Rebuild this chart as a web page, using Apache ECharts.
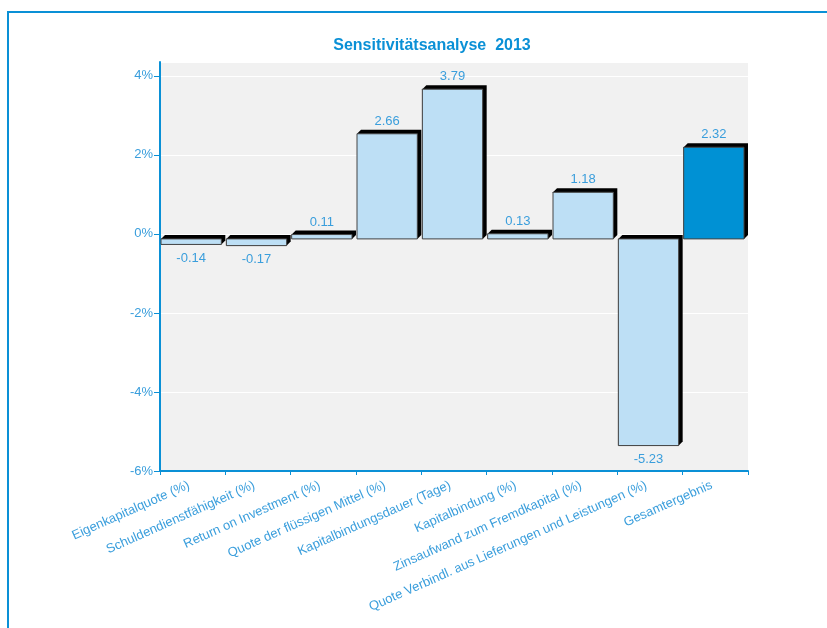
<!DOCTYPE html>
<html>
<head>
<meta charset="utf-8">
<script src="https://cdn.jsdelivr.net/npm/echarts@6/dist/echarts.min.js"></script>
<style>
  html, body { margin: 0; padding: 0; background: #fff; overflow: hidden; }
  #frame { position: absolute; left: 7px; top: 11px; width: 900px; height: 700px;
           border-top: 2px solid #0a90d6; border-left: 2px solid #0a90d6; }
  #chart { position: absolute; left: 0; top: 0; width: 827px; height: 628px; }
</style>
</head>
<body>
<div id="frame"></div>
<div id="chart"></div>
<script>
const categories = [
  "Eigenkapitalquote (%)",
  "Schuldendienstfähigkeit (%)",
  "Return on Investment (%)",
  "Quote der flüssigen Mittel (%)",
  "Kapitalbindungsdauer (Tage)",
  "Kapitalbindung (%)",
  "Zinsaufwand zum Fremdkapital (%)",
  "Quote Verbindl. aus Lieferungen und Leistungen (%)",
  "Gesamtergebnis"
];
const values = [-0.14, -0.17, 0.11, 2.66, 3.79, 0.13, 1.18, -5.23, 2.32];
const yTicks = [-6, -4, -2, 0, 2, 4];

const BLUE = "#0a90d6";
const TEXT = "#3a9edc";
const BAR = "#bddff5";
const TOTAL = "#0091d4";
const FONT = "'Liberation Sans', Arial, sans-serif";

const chart = echarts.init(document.getElementById("chart"));

// 3D-ish bar: black back face offset up-right, light front face on top
function renderBar(params, api) {
  const i = api.value(0);
  const v = api.value(1);
  const base = api.coord([i, 0]);
  const top = api.coord([i, v]);
  const band = api.size([1, 0])[0];
  const d = 4;
  const shift = 5;
  const x0 = base[0] - band / 2 + 1;
  const x1 = x0 + band - 5;
  const ft = Math.min(base[1], top[1]) + shift;
  const fb = Math.max(base[1], top[1]) + shift;
  const isTotal = i === categories.length - 1;
  const cx = (x0 + x1) / 2;
  return {
    type: "group",
    children: [
      {
        type: "polygon",
        shape: { points: [[x0, ft], [x0 + d, ft - d], [x1 + d, ft - d], [x1 + d, fb - d], [x1, fb], [x0, fb]] },
        style: { fill: "#000" }
      },
      {
        type: "rect",
        shape: { x: x0, y: ft, width: x1 - x0, height: fb - ft },
        style: { fill: isTotal ? TOTAL : BAR, stroke: "#444", lineWidth: 1 }
      },
      {
        type: "text",
        style: {
          text: v.toFixed(2),
          x: cx,
          y: v >= 0 ? ft - d - 2 : fb + 7,
          align: "center",
          verticalAlign: v >= 0 ? "bottom" : "top",
          fill: TEXT,
          font: "13px " + FONT
        }
      }
    ]
  };
}

chart.setOption({
  animation: false,
  textStyle: { fontFamily: FONT },
  title: {
    text: "Sensitivitätsanalyse  2013",
    left: 427,
    top: 33,
    textAlign: "center",
    textStyle: { color: BLUE, fontSize: 16, fontWeight: "bold", fontFamily: FONT }
  },
  grid: {
    left: 160, right: 79, top: 62, bottom: 157,
    show: true, backgroundColor: "#f1f1f1", borderWidth: 0
  },
  xAxis: {
    type: "category",
    data: categories,
    boundaryGap: true,
    axisLine: { onZero: false, lineStyle: { color: BLUE, width: 2 } },
    axisTick: { show: true, length: 4, lineStyle: { color: BLUE } },
    axisLabel: {
      interval: 0, rotate: 24, margin: 12, padding: [0, 4, 0, 0], color: TEXT, fontSize: 13
    },
    splitLine: { show: false }
  },
  yAxis: {
    type: "value",
    min: yTicks[0],
    max: 4.35,
    interval: 2,
    axisLine: { show: true, lineStyle: { color: BLUE, width: 2 } },
    axisTick: { show: true, length: 6, lineStyle: { color: BLUE } },
    axisLabel: {
      color: TEXT, fontSize: 13, margin: 7, showMaxLabel: false,
      formatter: v => yTicks.includes(v) ? v + "%" : ""
    },
    splitLine: { show: true, lineStyle: { color: "#ffffff", width: 1 } }
  },
  series: [{
    type: "custom",
    renderItem: renderBar,
    encode: { x: 0, y: 1 },
    data: values.map((v, i) => [i, v]),
    clip: false
  }]
});
</script>
</body>
</html>
